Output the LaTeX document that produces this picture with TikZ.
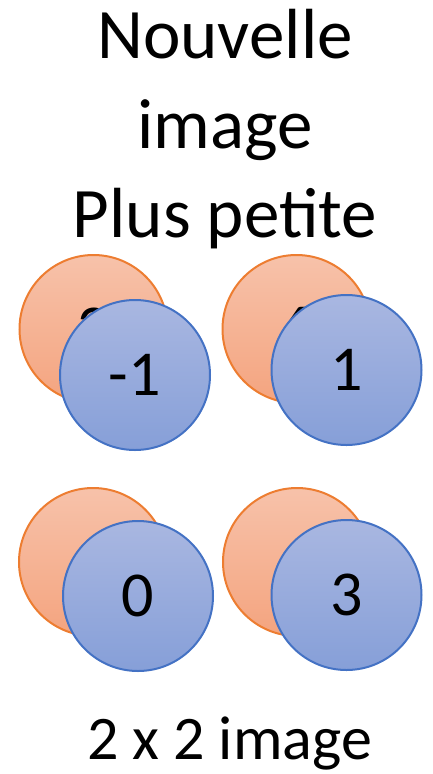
\documentclass[tikz,border=0pt]{standalone}
\usepackage{fontspec}
\setmainfont{Carlito}
\definecolor{orangeline}{HTML}{ED7D31}
\definecolor{orangetop}{HTML}{F7C2AA}
\definecolor{orangebot}{HTML}{F4A47F}
\definecolor{blueline}{HTML}{4472C4}
\definecolor{bluetop}{HTML}{A9B7E1}
\definecolor{bluebot}{HTML}{869FD8}

\begin{document}
\begin{tikzpicture}[x=1pt,y=-1pt]
\tikzstyle{title}=[anchor=base,inner sep=0pt,font=\fontsize{71}{85}\selectfont]
\tikzstyle{back}=[circle,draw=orangeline,line width=2pt,top color=orangetop,bottom color=orangebot,minimum size=148pt,inner sep=0pt,font=\fontsize{64}{64}\selectfont]
\tikzstyle{front}=[circle,draw=blueline,line width=2pt,top color=bluetop,bottom color=bluebot,minimum size=150pt,inner sep=0pt,font=\fontsize{64}{64}\selectfont]
\useasboundingbox (0,0) rectangle (433,774);
\node [title] (line1) at (225,58) {Nouvelle};
\node [title] (line2) at (225,148) {image};
\node [title] (line3) at (225,237) {Plus petite};
\node [back] (old11) at (93.5,329) {2};
\node [front] (new11) at (135,375) {-1};
\node [back] (old12) at (296.5,329) {6};
\node [front] (new12) at (346.5,370) {1};
\node [back] (old21) at (93,562) {};
\node [front] (new21) at (138,596) {0};
\node [back] (old22) at (297,562) {};
\node [front] (new22) at (346.5,595) {3};
\node [title,font=\fontsize{62}{74}\selectfont] (size) at (229.5,759) {2 x 2 image};
\end{tikzpicture}
\end{document}
